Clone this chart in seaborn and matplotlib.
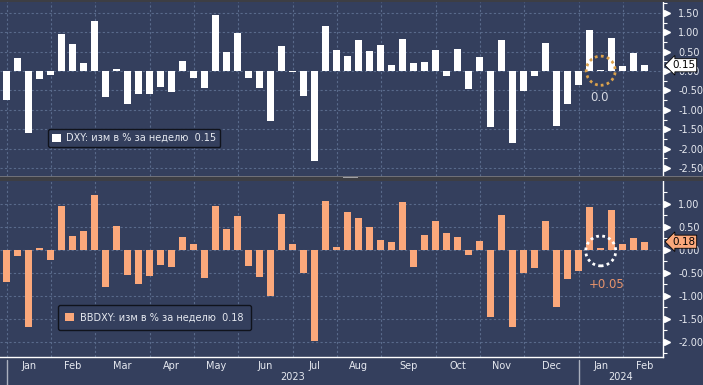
import numpy as np
import pandas as pd
import matplotlib
matplotlib.use("Agg")
import matplotlib.pyplot as plt
import matplotlib.transforms as mtransforms
from matplotlib.patches import Ellipse, Rectangle, Patch
import seaborn as sns

# недельные данные, пятница каждой недели
weeks = pd.date_range("2023-01-06", periods=59, freq="7D")

dxy = [-0.75, 0.34, -1.60, -0.20, -0.09, 0.95, 0.70, 0.21, 1.29, -0.66,
       0.05, -0.84, -0.58, -0.58, -0.40, -0.54, 0.26, -0.17, -0.43, 1.44,
       0.49, 0.98, -0.17, -0.43, -1.28, 0.64, -0.03, -0.64, -2.32, 1.16,
       0.54, 0.39, 0.80, 0.52, 0.67, 0.15, 0.82, 0.21, 0.23, 0.54,
       -0.12, 0.57, -0.46, 0.37, -1.43, 0.80, -1.85, -0.51, -0.12, 0.73,
       -1.41, -0.84, -0.35, 1.06, 0.02, 0.85, 0.14, 0.47, 0.15]

bbdxy = [-0.69, -0.12, -1.67, 0.04, -0.21, 0.96, 0.30, 0.41, 1.19, -0.80,
         0.52, -0.54, -0.75, -0.56, -0.32, -0.36, 0.28, 0.13, -0.60, 0.96,
         0.46, 0.74, -0.34, -0.58, -0.99, 0.78, 0.13, -0.49, -1.97, 1.07,
         0.07, 0.83, 0.70, 0.50, 0.22, 0.17, 1.04, -0.36, 0.33, 0.63,
         0.37, 0.28, -0.11, 0.20, -1.46, 0.76, -1.67, -0.50, -0.39, 0.63,
         -1.24, -0.64, -0.46, 0.93, 0.05, 0.87, 0.12, 0.26, 0.18]

dxy_label = "DXY: изм в % за неделю  0.15"
bbdxy_label = "BBDXY: изм в % за неделю  0.18"
dxy_last, bbdxy_last = "0.15", "0.18"
note_week = 54
dxy_note, bbdxy_note = "0.0", "+0.05"

top_ticks = [-2.5, -2.0, -1.5, -1.0, -0.5, 0.0, 0.5, 1.0, 1.5]
bot_ticks = [-2.0, -1.5, -1.0, -0.5, 0.0, 0.5, 1.0]

BG = "#343f5d"
GRID = "#596a8b"
ORANGE = "#fba87b"
TXT = "#e6e9f0"

sns.set_theme(style="dark", rc={"axes.facecolor": BG, "figure.facecolor": BG})
plt.rcParams['font.family'] = ['DejaVu Sans']

W, H = 703, 385
fig = plt.figure(figsize=(W / 100, H / 100), dpi=100, facecolor=BG)


def px_axes(x0, y0, x1, y1):
    return fig.add_axes([x0 / W, 1 - y1 / H, (x1 - x0) / W, (y1 - y0) / H])


ax1 = px_axes(0, 2, 663, 175.5)
ax2 = px_axes(0, 181, 663, 356.7)

n = len(weeks)
ext = pd.date_range(weeks[0], periods=n + 6, freq="7D")
mon = ext.to_period("M")
starts = [i for i in range(len(ext)) if i == 0 or mon[i] != mon[i - 1]]
m_starts = [s for s in starts if s < n]
m_mids = [(s + starts[k + 1]) / 2 for k, s in enumerate(starts) if s < n]
m_names = [ext[s].strftime("%b") for s in m_starts]
y_starts = [i for i in range(n) if i == 0 or weeks[i].year != weeks[i - 1].year]
XLIM = (-0.61, 59.66)


def draw_panel(ax, vals, color, ylim, yticks, last, last_bg):
    sns.barplot(x=np.arange(n), y=vals, color=color, saturation=1, width=0.64,
                errorbar=None, ax=ax, zorder=3, edgecolor="none", linewidth=0)
    ax.set_xlim(*XLIM)
    ax.set_ylim(*ylim)
    ax.set_axisbelow(True)
    ax.set_facecolor(BG)
    ax.set_xlabel("")
    ax.set_ylabel("")

    ax.set_xticks(m_starts)
    ax.set_xticklabels([""] * len(m_starts))
    ax.yaxis.tick_right()
    ax.set_yticks(yticks)
    ax.set_yticklabels([f"{v:.2f}" for v in yticks])
    ax.set_yticks(np.arange(np.ceil(ylim[0] * 4) / 4, ylim[1], 0.25), minor=True)
    ax.tick_params(axis="y", which="major", length=0, pad=11, labelsize=7, labelcolor=TXT)
    ax.tick_params(axis="y", which="minor", length=3, width=0.8, color="white", direction="out")
    ax.grid(True, which="major", color=GRID, ls=(0, (2, 2)), lw=0.8)

    for side in ["left", "top", "bottom"]:
        ax.spines[side].set_visible(False)
    ax.spines["right"].set_color("white")
    ax.spines["right"].set_linewidth(1)

    trans = mtransforms.blended_transform_factory(ax.transAxes, ax.transData)
    tri = mtransforms.offset_copy(trans, fig=fig, x=4, y=0, units="dots")
    ax.plot([1.0] * len(yticks), yticks, ls="none", marker=">", ms=5,
            color="white", transform=tri, clip_on=False)

    lab = mtransforms.offset_copy(trans, fig=fig, x=9, y=0, units="dots")
    ax.text(1.0, float(last), last, transform=lab, ha="left", va="center",
            fontsize=7.5, color="black", zorder=10, clip_on=False,
            bbox=dict(boxstyle="larrow,pad=0.15", fc=last_bg, ec="black", lw=0.6))


draw_panel(ax1, dxy, "white", (-2.69, 1.78), top_ticks, dxy_last, "white")
draw_panel(ax2, bbdxy, ORANGE, (-2.32, 1.5), bot_ticks, bbdxy_last, ORANGE)

ax1.tick_params(axis="x", which="both", length=0, labelbottom=False)

# нижняя ось: месяцы и годы
ax2.spines["bottom"].set_visible(True)
ax2.spines["bottom"].set_color("white")
ax2.spines["bottom"].set_linewidth(1)
ax2.tick_params(axis="x", which="major", length=4, width=1, color="white", direction="out")
ax2.set_xticks(m_mids, minor=True)
ax2.set_xticklabels(m_names, minor=True)
ax2.tick_params(axis="x", which="minor", length=0, pad=3, labelsize=7, labelcolor=TXT)

xt = mtransforms.blended_transform_factory(ax2.transData, ax2.transAxes)
y_edges = y_starts + [XLIM[1]]
for k, s in enumerate(y_starts):
    ax2.plot([s, s], [-0.02, -0.17], color="#aab0be", lw=1, transform=xt, clip_on=False)
    ax2.text((s + y_edges[k + 1]) / 2, -0.114, str(weeks[s].year), transform=xt,
             ha="center", va="center", fontsize=7, color=TXT)

# легенды
leg1 = ax1.legend([Patch(facecolor="white", edgecolor="none")], [dxy_label],
                  loc="upper left", bbox_to_anchor=(48 / 663, 1 - 127 / 173.5),
                  fontsize=7, labelcolor=TXT, facecolor=BG, edgecolor="#10131c",
                  framealpha=1, fancybox=True, handlelength=0.9, handleheight=0.9,
                  handletextpad=0.6, borderpad=0.4, borderaxespad=0)
leg1.get_frame().set_linewidth(1)
leg2 = ax2.legend([Patch(facecolor=ORANGE, edgecolor="none")], [bbdxy_label],
                  loc="upper left", bbox_to_anchor=(58 / 663, 1 - 124 / 175.7),
                  fontsize=7, labelcolor=TXT, facecolor=BG, edgecolor="#10131c",
                  framealpha=1, fancybox=True, handlelength=0.9, handleheight=0.9,
                  handletextpad=0.6, borderpad=0.75, borderaxespad=0)
leg2.get_frame().set_linewidth(1)

# выделение последней недели
ax1.add_patch(Ellipse((note_week, 0.01), 2.64, 0.75, fill=False, ec="#dba24c",
                      lw=2, ls=(0, (1, 1.2)), zorder=6))
ax1.text(note_week - 0.15, -0.67, dxy_note, ha="center", va="center",
         fontsize=8.5, color="#d6d9e2", zorder=6)
ax2.add_patch(Ellipse((note_week, -0.02), 2.73, 0.65, fill=False, ec="white",
                      lw=2, ls=(0, (1, 1.2)), zorder=6))
ax2.text(note_week + 0.5, -0.76, bbdxy_note, ha="center", va="center",
         fontsize=8.5, color="#e8946c", zorder=6)

# разделитель панелей и рамка
fig.patches.append(Rectangle((0, 1 - 180.5 / H), 1, 5 / H, transform=fig.transFigure,
                             fc="#3d3e44", ec="none", zorder=5))
fig.patches.append(Rectangle((0, 1 - 176.5 / H), 1, 1 / H, transform=fig.transFigure,
                             fc="#6f7078", ec="none", zorder=5))
for yy in (177.6, 179.4):
    fig.patches.append(Rectangle((343 / W, 1 - yy / H), 15 / W, 0.8 / H,
                                 transform=fig.transFigure, fc="#a0a0a4", ec="none", zorder=6))
fig.patches.append(Rectangle((0, 1 - 1.5 / H), 1, 1.5 / H, transform=fig.transFigure,
                             fc="#3d3e44", ec="none", zorder=5))

fig.savefig("out.png", dpi=100, facecolor=BG)
